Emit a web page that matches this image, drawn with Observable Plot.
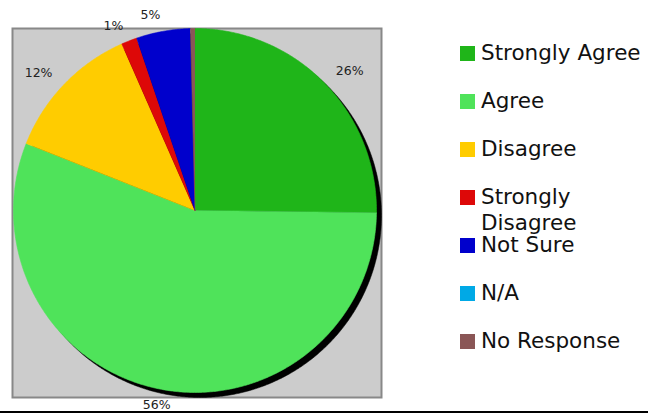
<!DOCTYPE html>
<html>
<head>
<meta charset="utf-8">
<script src="https://cdn.jsdelivr.net/npm/d3@7"></script>
<script src="https://cdn.jsdelivr.net/npm/@observablehq/plot@0.6"></script>
<style>
  html, body { margin: 0; padding: 0; background: #fff; }
  #wrap { position: relative; width: 648px; height: 414px; overflow: hidden; font-family: "DejaVu Sans", Verdana, sans-serif; }
  #chart { position: absolute; left: 0; top: 0; }
  #legend { position: absolute; left: 460px; top: 0; width: 188px; }
  .row { position: absolute; left: 0; width: 188px; display: flex; align-items: flex-start; }
  .sw { width: 15px; height: 15px; margin-top: 5.5px; flex: none; }
  .lab { margin-left: 6px; font-size: 21.5px; line-height: 26px; color: #111; width: 167px; }
  #baseline { position: absolute; left: 0; top: 411px; width: 648px; height: 2px; background: #000; }
</style>
</head>
<body>
<div id="wrap">
  <div id="chart"></div>
  <div id="legend"></div>
  <div id="baseline"></div>
</div>
<script>
// ---- data ----
const categories = ["Strongly Agree", "Agree", "Disagree", "Strongly Disagree", "Not Sure", "N/A", "No Response"];
const values = [25.2, 55.8, 12.4, 1.4, 4.8, 0, 0.4];
const labels = ["26%", "56%", "12%", "1%", "5%", "", ""];
const colors = ["#1fb519", "#4fe35a", "#ffcc00", "#dd0808", "#0000cc", "#00a9e6", "#8a5656"];

// ---- geometry derived from data ----
const rows = categories.map((name, i) => ({name, value: values[i], label: labels[i], color: colors[i]}));
const arcs = d3.pie().sort(null).value(d => d.value)(rows);

const polys = [];
arcs.forEach(a => {
  if (a.data.value <= 0) return;
  polys.push({name: a.data.name, x: 0, y: 0});
  const n = Math.max(2, Math.ceil((a.endAngle - a.startAngle) / (Math.PI / 360)));
  for (let k = 0; k <= n; k++) {
    const t = a.startAngle + (a.endAngle - a.startAngle) * k / n;
    polys.push({name: a.data.name, x: Math.sin(t), y: Math.cos(t)});
  }
});

const circle = d3.range(0, 721).map(k => {
  const t = k / 720 * 2 * Math.PI;
  return {x: Math.sin(t), y: Math.cos(t)};
});

const labelPts = arcs.filter(a => a.data.label).map(a => {
  const m = (a.startAngle + a.endAngle) / 2;
  const sx = Math.sin(m), cy = Math.cos(m);
  const anchor = cy < -0.8 ? "middle" : (sx > 0 ? "start" : "end");
  return {label: a.data.label, x: 1.09 * sx, y: 1.09 * cy, anchor};
});

const chart = Plot.plot({
  width: 648,
  height: 414,
  marginLeft: 12,
  marginRight: 267,
  marginTop: 28,
  marginBottom: 17,
  x: {domain: [-1, 1], range: [13, 376], axis: null},
  y: {domain: [-1, 1], range: [392, 28], axis: null},
  color: {domain: categories, range: colors},
  style: {fontFamily: "DejaVu Sans, Verdana, sans-serif", overflow: "visible", background: "transparent"},
  marks: [
    Plot.frame({fill: "#cccccc", stroke: "#888888", strokeWidth: 2}),
    Plot.line(circle, {x: "x", y: "y", fill: "#000", stroke: "#000", strokeWidth: 0.5, dx: 5, dy: 5}),
    Plot.line(polys, {x: "x", y: "y", z: "name", fill: "name", stroke: "name", strokeWidth: 0.6}),
    Plot.text(labelPts.filter(d => d.anchor === "start"), {x: "x", y: "y", text: "label", textAnchor: "start", fontSize: 12.5, fill: "#222"}),
    Plot.text(labelPts.filter(d => d.anchor === "end"), {x: "x", y: "y", text: "label", textAnchor: "end", fontSize: 12.5, fill: "#222"}),
    Plot.text(labelPts.filter(d => d.anchor === "middle"), {x: "x", y: "y", text: "label", textAnchor: "middle", fontSize: 12.5, fill: "#222"})
  ]
});
document.getElementById("chart").appendChild(chart);

// ---- legend ----
const legend = document.getElementById("legend");
categories.forEach((name, i) => {
  const row = document.createElement("div");
  row.className = "row";
  row.style.top = (53 + 48 * i - 13) + "px";
  const sw = document.createElement("div");
  sw.className = "sw";
  sw.style.background = colors[i];
  const lab = document.createElement("div");
  lab.className = "lab";
  lab.textContent = name;
  row.appendChild(sw);
  row.appendChild(lab);
  legend.appendChild(row);
});
</script>
</body>
</html>
